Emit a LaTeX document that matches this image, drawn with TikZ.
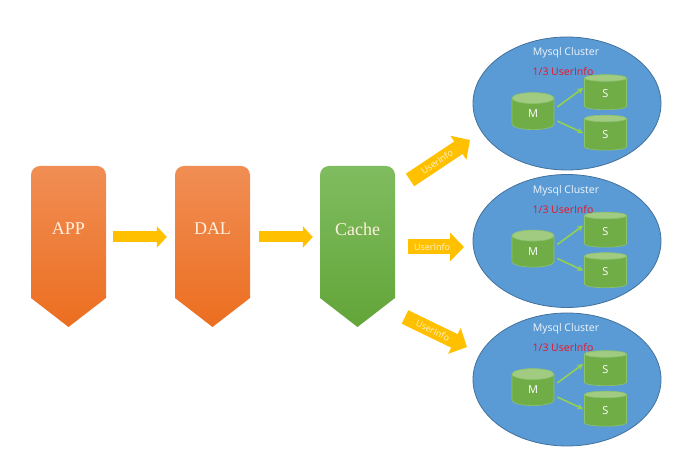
\documentclass[tikz,border=0pt]{standalone}
\usepackage{fontspec}
\setsansfont{Open Sans}
\newfontfamily\boxfont{Liberation Serif}
\usetikzlibrary{shapes.geometric,arrows.meta,calc}
\definecolor{amber}{RGB}{255,192,0}
\definecolor{orangetop}{RGB}{240,142,84}
\definecolor{orangebot}{RGB}{236,110,32}
\definecolor{greentop}{RGB}{128,188,96}
\definecolor{greenbot}{RGB}{98,165,56}
\definecolor{clusterblue}{RGB}{91,155,213}
\definecolor{clusterline}{RGB}{65,113,156}
\definecolor{dbbody}{RGB}{112,173,71}
\definecolor{dbtop}{RGB}{160,203,128}
\definecolor{dbline}{RGB}{140,195,105}
\definecolor{linkgreen}{RGB}{146,208,80}
\definecolor{infored}{RGB}{230,20,40}
\begin{document}
\begin{tikzpicture}[x=1pt,y=1pt,
  box/.style={rectangle,inner sep=0pt,minimum width=75pt,minimum height=1pt},
  boxtext/.style={font=\boxfont\fontsize{18}{18}\selectfont,text=white!88!orange},
  flow/.style={amber,line width=11pt,-{Triangle[width=21pt,length=10pt]}},
  data/.style={amber,line width=15pt,-{Triangle[width=28pt,length=14pt]}},
  datatext/.style={font=\sffamily\fontsize{9}{9}\selectfont,text=white!80!amber,sloped},
  cluster/.style={ellipse,draw=clusterline,line width=0.8pt,fill=clusterblue,minimum width=188pt,minimum height=133pt},
  title/.style={font=\sffamily\fontsize{10.5}{10.5}\selectfont,text=white!90!clusterblue},
  share/.style={font=\sffamily\fontsize{10.5}{10.5}\selectfont,text=infored},
  db/.style={cylinder,shape border rotate=90,aspect=1.1,draw=dbline,line width=0.6pt,
    cylinder uses custom fill,cylinder body fill=dbbody,cylinder end fill=dbtop,
    minimum width=42pt,minimum height=37pt,inner sep=0pt,text=white,font=\sffamily\fontsize{11}{11}\selectfont},
  link/.style={linkgreen,line width=1.6pt,-{Stealth[length=6pt,width=6pt]}}]

\useasboundingbox (0,0) rectangle (681,471);

\foreach \n/\x/\t/\ca/\cb in {app/68.5/APP/orangetop/orangebot,dal/212.5/DAL/orangetop/orangebot,cache/357.5/Cache/greentop/greenbot}{
  \shade[top color=\ca,bottom color=\cb] (\x,144) -- (\x-37.5,173) -- (\x-37.5,250) [rounded corners=9pt] -- (\x-37.5,305) -- (\x+37.5,305) -- (\x+37.5,250) [sharp corners] -- (\x+37.5,173) -- cycle;
  \node[box] (\n) at (\x,234) {};
  \node[boxtext] (\n-text) at (\x,242) {\t};
}

\path (app) edge [flow,shorten <=7pt,shorten >=8pt] (dal);
\path (dal) edge [flow,shorten <=9pt,shorten >=7pt] (cache);

\foreach \i/\y in {1/367.5,2/230,3/91.5}{
  \node[cluster] (cl\i) at (567,\y) {};
  \node[title] (title\i) at (566,\y+50.5) {Mysql Cluster};
  \node[share] (share\i) at (563,\y+31.5) {1/3 UserInfo};
  \node[db] (m\i) at (533,\y-10.5) {M};
  \node[db,minimum height=35pt] (sa\i) at (605.5,\y+9.5) {S};
  \node[db,minimum height=35pt] (sb\i) at (605.5,\y-31) {S};
  \draw[link] ($(m\i.east)+(3,7)$) -- ($(sa\i.west)+(-1,6)$);
  \draw[link] ($(m\i.east)+(3,-7)$) -- ($(sb\i.west)+(-1,1.5)$);
}

\coordinate (tail1) at (410,291);
\coordinate (tip1) at (470,331);
\coordinate (tail2) at (408,224);
\coordinate (tip2) at (464,224);
\coordinate (tail3) at (405,154);
\coordinate (tip3) at (467,124);
\draw[data] (tail1) -- node[datatext,pos=0.45] (info1) {UserInfo} (tip1);
\draw[data] (tail2) -- node[datatext,pos=0.43] (info2) {UserInfo} (tip2);
\draw[data] (tail3) -- node[datatext,pos=0.45] (info3) {UserInfo} (tip3);
\end{tikzpicture}
\end{document}
